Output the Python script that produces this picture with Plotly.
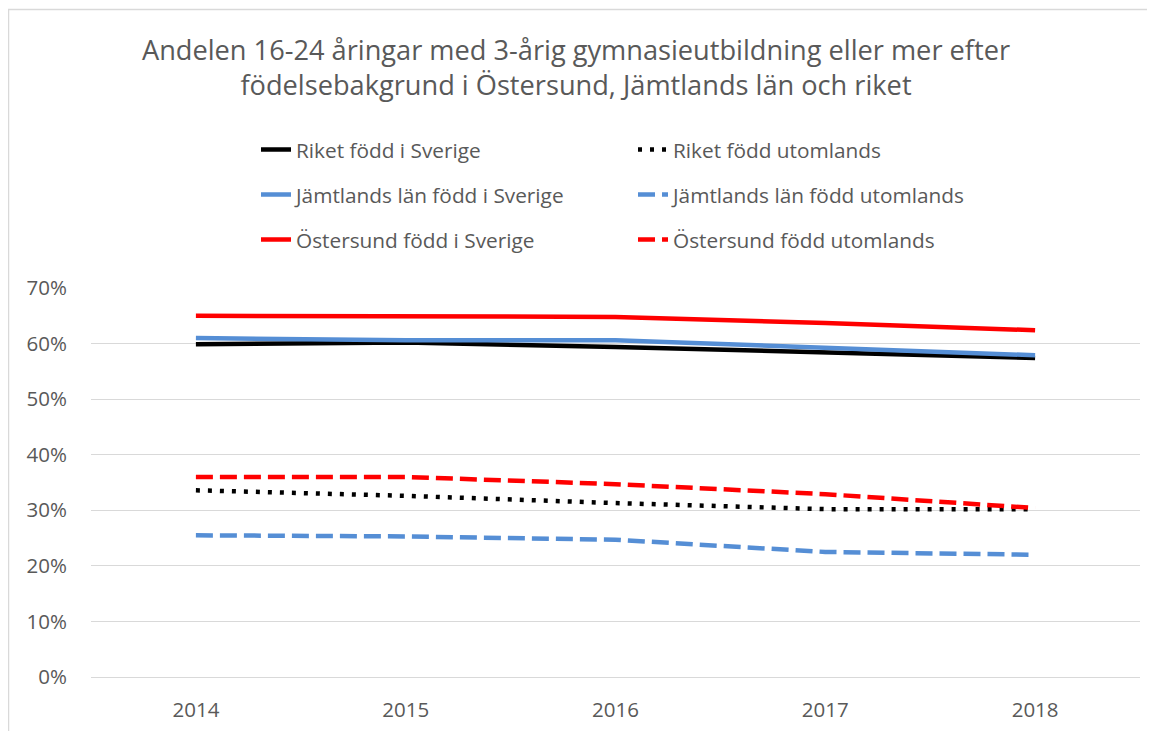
import plotly.graph_objects as go

years = ["2014", "2015", "2016", "2017", "2018"]
riket_sverige = [0.599, 0.602, 0.594, 0.585, 0.574]
riket_utomlands = [0.336, 0.326, 0.313, 0.302, 0.302]
jamtland_sverige = [0.610, 0.606, 0.606, 0.592, 0.579]
jamtland_utomlands = [0.255, 0.253, 0.247, 0.225, 0.220]
ostersund_sverige = [0.650, 0.648, 0.648, 0.637, 0.624]
ostersund_utomlands = [0.360, 0.360, 0.347, 0.329, 0.304]

names = [
    "Riket född i Sverige", "Riket född utomlands",
    "Jämtlands län född i Sverige", "Jämtlands län född utomlands",
    "Östersund född i Sverige", "Östersund född utomlands",
]
series = [riket_sverige, riket_utomlands, jamtland_sverige,
          jamtland_utomlands, ostersund_sverige, ostersund_utomlands]
colors = ["#000000", "#000000", "#558ED5", "#558ED5", "#FF0000", "#FF0000"]
dashes = ["solid", "4px,8px", "solid", "17px,7px", "solid", "17px,7px"]
legends = ["legend", "legend", "legend2", "legend2", "legend3", "legend3"]

FONT = "Open Sans"
GREY = "#595959"

fig = go.Figure()
for name, vals, c, d, lg in zip(names, series, colors, dashes, legends):
    fig.add_trace(go.Scatter(
        x=years, y=vals, name=name, mode="lines", legend=lg,
        line=dict(color=c, width=4.5, dash=d),
    ))

# page is offset by 8px body margin; positions below in page px (reference)
OFF = 8
W, H = 1155, 731
L, R, T, B = 83, 23, 280, 62
pw = W - L - R
ph = H - T - B

def px2x(px):
    return (px - OFF - L) / pw

def py2y(py):
    return (H - B - (py - OFF)) / ph

leg_common = dict(orientation="h", entrywidth=332, entrywidthmode="pixels",
                  font=dict(family=FONT, size=20.8, color=GREY),
                  bgcolor="rgba(0,0,0,0)", xanchor="left", yanchor="middle",
                  itemwidth=30)
fig.update_layout(
    width=W, height=H,
    margin=dict(l=L, r=R, t=T, b=B),
    paper_bgcolor="white", plot_bgcolor="white",
    font=dict(family=FONT, color=GREY),
    title=dict(
        text="Andelen 16-24 åringar med 3-årig gymnasieutbildning eller mer efter<br>födelsebakgrund i Östersund, Jämtlands län och riket",
        x=(576 - OFF) / W, xanchor="center", xref="container",
        y=1 - 52 / H, yanchor="top", yref="container",
        font=dict(family=FONT, size=27.2, color=GREY),
    ),
    legend=dict(x=px2x(256), y=py2y(150), **leg_common),
    legend2=dict(x=px2x(256), y=py2y(195), **leg_common),
    legend3=dict(x=px2x(256), y=py2y(240), **leg_common),
    xaxis=dict(type="category", range=[-0.5, 4.5], showgrid=False,
               showline=True, linecolor="#D9D9D9", linewidth=1,
               ticks="", tickfont=dict(family=FONT, size=20.5, color=GREY),
               ticklabelstandoff=14, zeroline=False),
    yaxis=dict(range=[0, 0.7], dtick=0.1, tickformat=".0%",
               showgrid=True, gridcolor="#D9D9D9", gridwidth=1,
               zeroline=False, showline=False, ticks="",
               tickfont=dict(family=FONT, size=20.5, color=GREY),
               ticklabelstandoff=23),
)

# chart border
fig.add_shape(type="rect", xref="paper", yref="paper",
              x0=px2x(8.5), x1=px2x(1180), y0=py2y(760), y1=py2y(9.5),
              line=dict(color="#D9D9D9", width=1.5), fillcolor="rgba(0,0,0,0)",
              layer="below")

fig.write_html("out.html")
